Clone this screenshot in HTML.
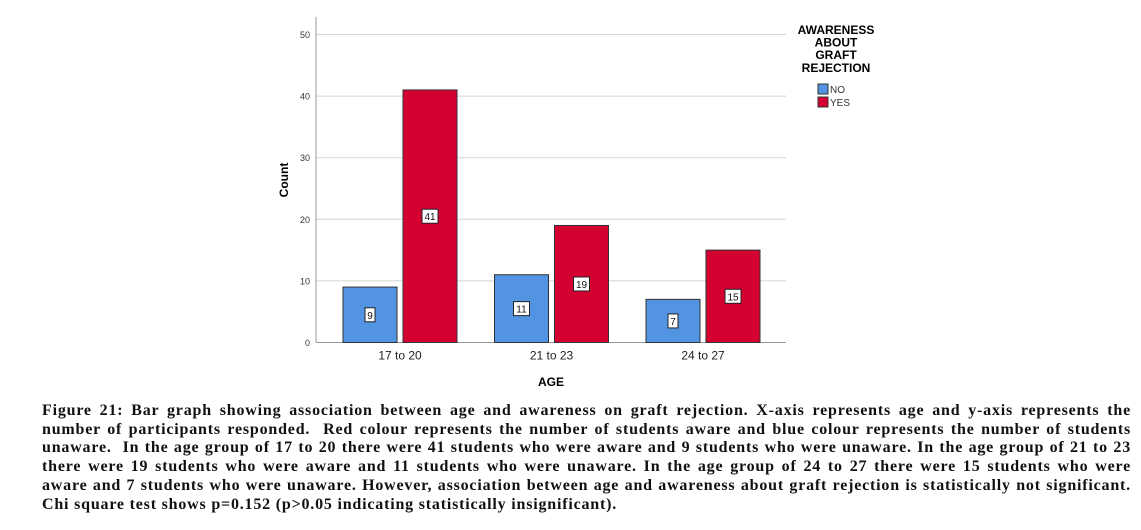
<!DOCTYPE html>
<html><head><meta charset="utf-8"><style>
body{margin:0;width:1141px;height:530px;background:#fff;overflow:hidden;position:relative;font-family:"Liberation Sans",sans-serif}
svg{position:absolute;left:0;top:0}
.cap{position:absolute;left:42px;top:402px;width:1089px;font-family:"Liberation Serif",serif;font-weight:bold;font-size:16px;letter-spacing:0.8px;line-height:18.7px;color:#111}
.cap div{text-align:justify;text-align-last:justify;white-space:nowrap}
.cap div.last{text-align-last:left}
</style></head><body>
<svg width="1141" height="400" id="chart"></svg>
<div class="cap">
<div style="white-space:normal">Figure 21: Bar graph showing association between age and awareness on graft rejection. X-axis represents age and y-axis represents the</div>
<div style="white-space:normal">number of participants responded.&nbsp; Red colour represents the number of students aware and blue colour represents the number of students</div>
<div style="white-space:normal">unaware.&nbsp; In the age group of 17 to 20 there were 41 students who were aware and 9 students who were unaware. In the age group of 21 to 23</div>
<div style="white-space:normal">there were 19 students who were aware and 11 students who were unaware. In the age group of 24 to 27 there were 15 students who were</div>
<div style="white-space:normal">aware and 7 students who were unaware. However, association between age and awareness about graft rejection is statistically not significant.</div>
<div class="last">Chi square test shows p=0.152 (p&gt;0.05 indicating statistically insignificant).</div>
</div>
<script>
const categories=["17 to 20","21 to 23","24 to 27"];
const noValues=[9,11,7];
const yesValues=[41,19,15];
const yTicks=[0,10,20,30,40,50];
const NS="http://www.w3.org/2000/svg";
const svg=document.getElementById('chart');
const x0=316,x1=786,y0=342.5,pxPer=6.16;
const y=v=>y0-v*pxPer;
const cx=i=>400+i*151.5;
function mk(t,a,txt){const e=document.createElementNS(NS,t);for(const k in a)e.setAttribute(k,a[k]);if(txt!==undefined)e.textContent=txt;svg.appendChild(e);return e;}
yTicks.forEach(v=>{
 if(v>0){const g=mk('line',{x1:x0,x2:x1,y1:y(v),y2:y(v),stroke:'#d4d4d4','stroke-width':1});
 
 }
 const t=mk('text',{x:x0-6,y:y(v)+3.5,'text-anchor':'end','font-size':9,fill:'#333'},v);
 
 
});
const ax=mk('line',{x1:x0,x2:x0,y1:17,y2:y0,stroke:'#999'});


const bx=mk('line',{x1:x0,x2:x1,y1:y0,y2:y0,stroke:'#999'});


function bar(i,v,off,fill,name){
 const x=cx(i)+off;
 const r=mk('rect',{x:x,y:y(v),width:54,height:y0-y(v),fill:fill,stroke:'#333','stroke-width':1});
 
 
 const my=(y(v)+y0)/2;
 const w=String(v).length>1?16:10;
 const b=mk('rect',{x:x+27-w/2,y:my-7,width:w,height:14,fill:'#fff',stroke:'#222','stroke-width':1});
 
 
 const t=mk('text',{x:x+27,y:my+4,'text-anchor':'middle','font-size':10,fill:'#111'},v);
 
 
}
categories.forEach((c,i)=>{
 bar(i,noValues[i],-57,'#5294e2','no');
 bar(i,yesValues[i],3,'#d50032','yes');
 const t=mk('text',{x:cx(i),y:y0+17,'text-anchor':'middle','font-size':12,fill:'#222'},c);
 
 
});
const xt=mk('text',{x:551,y:386,'text-anchor':'middle','font-size':12,'font-weight':'bold'},'AGE');


const yt=mk('text',{x:288,y:180,'text-anchor':'middle','font-size':12,'font-weight':'bold',transform:'rotate(-90 288 180)'},'Count');


["AWARENESS","ABOUT","GRAFT","REJECTION"].forEach((s,k)=>{
 const t=mk('text',{x:836,y:34+k*12.6,'text-anchor':'middle','font-size':12,'font-weight':'bold'},s);
 
 
});
[["NO",'#5294e2'],["YES",'#d50032']].forEach((d,k)=>{
 const r=mk('rect',{x:818,y:84+k*13,width:10,height:10,fill:d[1],stroke:'#333'});
 
 
 const t=mk('text',{x:830,y:93+k*13,'font-size':10,fill:'#333'},d[0]);
 
 
});
</script>
</body></html>
